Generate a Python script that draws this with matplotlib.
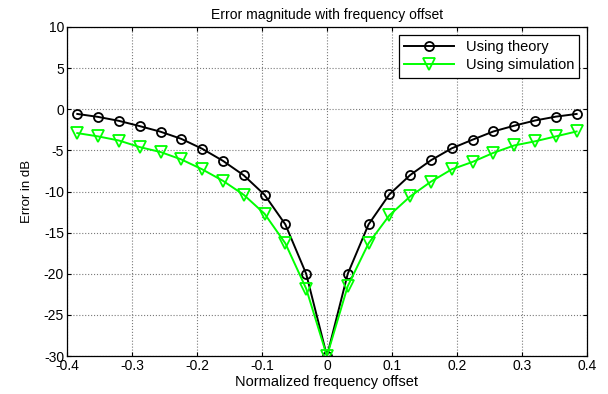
import numpy as np
import matplotlib
matplotlib.use("Agg")
import matplotlib.pyplot as plt

# frequency offsets (normalized), 0.032 steps
offset = [-0.384, -0.352, -0.320, -0.288, -0.256, -0.224, -0.192, -0.160, -0.128, -0.096, -0.064, -0.032,
          0.0,
          0.032, 0.064, 0.096, 0.128, 0.160, 0.192, 0.224, 0.256, 0.288, 0.320, 0.352, 0.384]

theory_db = [-0.57, -0.93, -1.41, -2.05, -2.73, -3.6, -4.8, -6.27, -8.03, -10.4, -14.0, -20.0,
             -30.0,
             -20.0, -14.0, -10.35, -8.0, -6.2, -4.75, -3.7, -2.7, -2.0, -1.37, -0.9, -0.57]

sim_db = [-2.9, -3.3, -3.8, -4.6, -5.2, -6.1, -7.3, -8.7, -10.4, -12.7, -16.3, -21.8,
          -30.0,
          -21.5, -16.3, -12.9, -10.6, -8.8, -7.3, -6.4, -5.3, -4.4, -3.9, -3.3, -2.7]

plt.rcParams['font.family'] = ['Liberation Sans', 'DejaVu Sans']
plt.rcParams['font.size'] = 10
plt.rcParams['axes.unicode_minus'] = False

fig = plt.figure(figsize=(6.08, 3.94), dpi=100)
ax = fig.add_axes([0.110, 0.0964, 0.8555, 0.8351])

ax.plot(offset, theory_db, color='black', lw=1.4, marker='o', ms=6.5,
        mfc='none', mec='black', mew=1.3, label='Using theory')
ax.plot(offset, sim_db, color='#00ff00', lw=1.4, marker='v', ms=8,
        mfc='none', mec='#00ff00', mew=1.3, label='Using simulation')

ax.set_xlim(-0.4, 0.4)
ax.set_ylim(-30, 10)
ax.set_xticks(np.arange(-0.4, 0.41, 0.1))
ax.set_xticklabels(['-0.4', '-0.3', '-0.2', '-0.1', '0', '0.1', '0.2', '0.3', '0.4'])
ax.set_yticks(np.arange(-30, 11, 5))
ax.tick_params(axis='x', direction='in', length=3, top=True, pad=2.5)
ax.tick_params(axis='y', direction='in', length=3, right=True, pad=2)
ax.grid(True, color='#7a7a7a', linestyle=':', linewidth=0.8)
for s in ax.spines.values():
    s.set_linewidth(0.9)

ax.set_title('Error magnitude with frequency offset', fontsize=10, pad=6)
ax.set_xlabel('Normalized frequency offset', fontsize=10.5, labelpad=1)
ax.set_ylabel('Error in dB', fontsize=9.5, labelpad=8)

leg = ax.legend(loc='upper right', fontsize=10.5, fancybox=False, framealpha=1,
                edgecolor='black', borderaxespad=0.55, handlelength=3.4,
                labelspacing=0.3, borderpad=0.35)
leg.get_frame().set_linewidth(0.9)

fig.savefig('out.png', dpi=100)
